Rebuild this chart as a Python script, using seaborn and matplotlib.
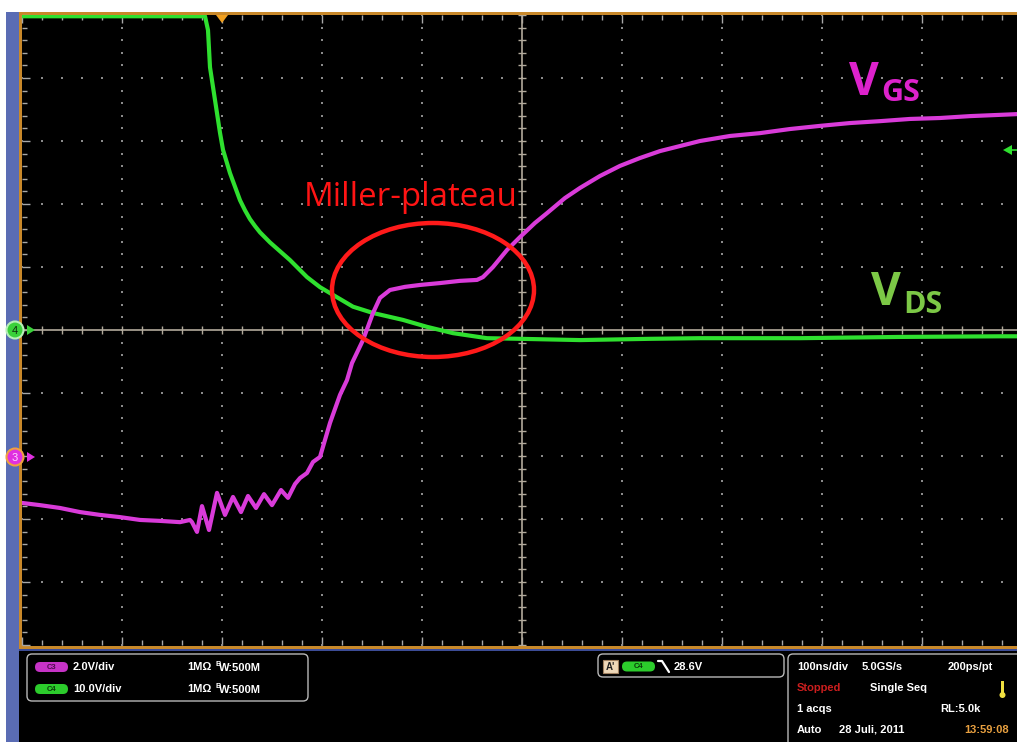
import numpy as np
import pandas as pd
import matplotlib
matplotlib.use("Agg")
import matplotlib.pyplot as plt
import seaborn as sns
from matplotlib.patches import Ellipse, Rectangle, FancyBboxPatch, Circle, Polygon
from matplotlib.ticker import MultipleLocator

# ---------------- data ----------------
# Channel 3 : gate-source voltage V_GS, time in ns, value in volts
vgs_t_ns = [0, 18, 38, 58, 78, 98, 118, 138, 158, 168, 170, 175, 180, 187, 195,
            203, 211, 219, 226, 234, 242, 250, 259, 266, 273, 278, 285, 291, 298,
            303, 308, 318, 325, 330, 341, 351, 358, 368, 383, 398, 418, 438, 455,
            461, 471, 485, 498, 513, 525, 543, 558, 578, 598, 618, 638, 658, 678,
            708, 738, 768, 798, 828, 858, 888, 918, 948, 978, 1000]
vgs_volts = [-1.49, -1.56, -1.65, -1.78, -1.87, -1.94, -2.03, -2.06, -2.10, -2.03,
             -2.10, -2.41, -1.59, -2.35, -1.17, -1.87, -1.30, -1.78, -1.27, -1.65,
             -1.21, -1.56, -1.08, -1.33, -0.89, -0.70, -0.54, -0.19, -0.03, 0.51,
             1.05, 1.94, 2.41, 2.95, 3.68, 4.54, 5.02, 5.27, 5.37, 5.43, 5.49, 5.56,
             5.59, 5.68, 6.00, 6.54, 6.95, 7.40, 7.71, 8.19, 8.51, 8.89, 9.21, 9.46,
             9.68, 9.84, 10.00, 10.16, 10.25, 10.38, 10.48, 10.57, 10.63, 10.70,
             10.73, 10.79, 10.83, 10.86]

# Channel 4 : drain-source voltage V_DS, time in ns, value in volts
vds_t_ns = [0, 183, 186, 188, 193, 198, 201, 208, 218, 223, 228, 233, 238, 243,
            248, 258, 268, 285, 298, 315, 331, 351, 381, 405, 431, 465, 498, 558,
            628, 678, 778, 878, 978, 1000]
vds_volts = [49.8, 49.8, 47.6, 41.7, 36.5, 31.3, 28.6, 24.9, 20.6, 19.0, 17.6, 16.5,
             15.5, 14.7, 13.9, 12.5, 11.1, 8.4, 6.8, 5.2, 3.7, 2.7, 1.6, 0.5, -0.5,
             -1.3, -1.4, -1.6, -1.4, -1.3, -1.3, -1.1, -1.0, -1.0]

# channel settings
ch3_volts_per_div, ch3_offset_div = 2.0, -2.0
ch4_volts_per_div, ch4_offset_div = 10.0, 0.0
time_per_div_ns = 100

label_plateau = "Miller-plateau"
label_vgs = ("V", "GS")
label_vds = ("V", "DS")

ch3_row = ("C3", "2.0V/div", "1MΩ", "B", "W:500M")
ch4_row = ("C4", "10.0V/div", "1MΩ", "B", "W:500M")
trigger_info = ("A'", "C4", "28.6V")
acq_rows = [("100ns/div", "5.0GS/s", "200ps/pt"),
            ("Stopped", "Single Seq", ""),
            ("1 acqs", "", "RL:5.0k"),
            ("Auto", "28 Juli, 2011", "13:59:08")]

# ---------------- style ----------------
sns.set_theme(style="dark")
plt.rcParams["font.family"] = ["Liberation Sans", "DejaVu Sans"]

W, H = 1017, 742
fig = plt.figure(figsize=(W / 100, H / 100), dpi=100, facecolor="black")

# background / frame axes in pixel coordinates
axb = fig.add_axes([0, 0, 1, 1], zorder=0)
axb.set_xlim(0, W); axb.set_ylim(H, 0); axb.axis("off")
axb.add_patch(Rectangle((0, 0), W, H, fc="black", ec="none"))
axb.add_patch(Rectangle((0, 0), W, 12, fc="white", ec="none"))
axb.add_patch(Rectangle((0, 0), 6, H, fc="white", ec="none"))
axb.add_patch(Rectangle((6, 12), 13, H, fc="#5a6cb4", ec="none"))
axb.add_patch(Rectangle((19, 12), W, 3.5, fc="#c8882a", ec="none"))
axb.add_patch(Rectangle((19, 12), 3.5, 637, fc="#c8882a", ec="none"))
axb.add_patch(Rectangle((19, 645.5), W, 3, fc="#c8882a", ec="none"))
axb.add_patch(Rectangle((19, 648.5), W, 2, fc="#3c4c96", ec="none"))

# main scope axes
left, top_px, bottom_px = 22, 15, 645
ax = fig.add_axes([left / W, (H - bottom_px) / H, 1000 / W, (bottom_px - top_px) / H],
                  zorder=1)
ax.set_facecolor("black")
ax.set_xlim(0, 10 * time_per_div_ns)
ax.set_ylim(-5, 5)
for s in ["top", "left", "bottom", "right"]:
    ax.spines[s].set_visible(False)
ax.xaxis.set_major_locator(MultipleLocator(time_per_div_ns))
ax.xaxis.set_minor_locator(MultipleLocator(time_per_div_ns / 5))
ax.yaxis.set_major_locator(MultipleLocator(1))
ax.yaxis.set_minor_locator(MultipleLocator(0.2))
ax.tick_params(which="both", direction="in", top=True, bottom=True, left=True,
               right=False, labelbottom=False, labelleft=False, color="#a8a8a8",
               width=1)
ax.tick_params(which="major", length=6)
ax.tick_params(which="minor", length=3.5)
ax.grid(False)

# graticule dots
grid_col = "#8a8a8a"
xd = np.arange(0, 1001, 20)
for yv in [-4, -3, -2, -1, 1, 2, 3, 4]:
    ax.scatter(xd, np.full_like(xd, yv, dtype=float), s=1.6, marker="s",
               color=grid_col, linewidths=0, zorder=1)
yd = np.arange(-5, 5.001, 0.2)
for xv in [100, 200, 300, 400, 600, 700, 800, 900]:
    ax.scatter(np.full_like(yd, xv), yd, s=1.6, marker="s", color=grid_col,
               linewidths=0, zorder=1)
# center cross with ticks
cross_col = "#b2aa9c"
ax.axhline(0, color=cross_col, lw=1.2, zorder=1)
ax.axvline(500, color=cross_col, lw=1.2, zorder=1)
ax.plot(xd, np.zeros_like(xd, dtype=float), ls="none", marker="|", ms=6, mew=1,
        color=cross_col, zorder=1)
ax.plot(np.full_like(yd, 500), yd, ls="none", marker="_", ms=6, mew=1,
        color=cross_col, zorder=1)

# traces
vds = pd.DataFrame({"t": vds_t_ns, "v": vds_volts})
vds["div"] = vds["v"] / ch4_volts_per_div + ch4_offset_div
vgs = pd.DataFrame({"t": vgs_t_ns, "v": vgs_volts})
vgs["div"] = vgs["v"] / ch3_volts_per_div + ch3_offset_div

sns.lineplot(data=vds, x="t", y="div", ax=ax, color="#2fe02f", lw=3.0,
             estimator=None, sort=False, zorder=3)
sns.lineplot(data=vgs, x="t", y="div", ax=ax, color="#d93bd9", lw=3.0,
             estimator=None, sort=False, zorder=4)
ax.set_xlabel(""); ax.set_ylabel("")

# Miller plateau ellipse
ax.add_patch(Ellipse((411, (330 - 290) / 63), width=202, height=134 / 63,
                     fill=False, ec="#ff1a1a", lw=3.2, zorder=5))

# overlay axes in pixel coordinates
axo = fig.add_axes([0, 0, 1, 1], zorder=3)
axo.set_xlim(0, W); axo.set_ylim(H, 0); axo.axis("off")
axo.patch.set_alpha(0)

lab_font = ["Open Sans", "DejaVu Sans"]
axo.text(304, 206, label_plateau, fontsize=23.8, color="#ff1414", family=lab_font,
         va="baseline", ha="left")
axo.text(849, 95, label_vgs[0], fontsize=33, color="#dd22cc", family=lab_font,
         weight="bold", va="baseline", ha="left")
axo.text(881, 101, label_vgs[1], fontsize=22, color="#dd22cc", family=lab_font,
         weight="bold", va="baseline", ha="left")
axo.text(871, 305, label_vds[0], fontsize=33, color="#7cc846", family=lab_font,
         weight="bold", va="baseline", ha="left")
axo.text(903, 313, label_vds[1], fontsize=22, color="#7cc846", family=lab_font,
         weight="bold", va="baseline", ha="left")

# channel ground markers
axo.add_patch(Circle((15, 330), 8.5, fc="#3ad13a", ec="#b8f0b8", lw=1.5))
axo.text(15, 331, "4", fontsize=8, color="#0e2a0e", ha="center", va="center")
axo.add_patch(Polygon([(27, 325), (27, 335), (35, 330)], fc="#3ad13a", ec="none"))
axo.add_patch(Circle((15, 457), 8.5, fc="#e030e0", ec="#f0a040", lw=1.5))
axo.text(15, 458, "3", fontsize=8, color="#ffd8ff", ha="center", va="center")
axo.add_patch(Polygon([(27, 452), (27, 462), (35, 457)], fc="#e030e0", ec="none"))
# trigger position & level markers
axo.add_patch(Polygon([(216, 15), (228, 15), (222, 23)], fc="#f0a020", ec="none"))
axo.add_patch(Polygon([(1012, 145), (1012, 155), (1003, 150)], fc="#2fe02f", ec="none"))
axo.plot([1011, 1017], [150, 150], color="#2fe02f", lw=1.2)

# ---------------- bottom status panel ----------------
bold = dict(fontsize=8, color="white", weight="bold", va="center", ha="left",
            family=["Liberation Sans", "DejaVu Sans"])
box_ec = "#b8b8b8"

def rbox(x0, y0, w, h, r=5, ec=box_ec):
    axo.add_patch(FancyBboxPatch((x0, y0), w, h,
                                 boxstyle=f"round,pad=0,rounding_size={r}",
                                 fc="black", ec=ec, lw=1))

def pill(x0, yc, fc, label, tc):
    axo.add_patch(FancyBboxPatch((x0, yc - 5), 33, 10,
                                 boxstyle="round,pad=0,rounding_size=5",
                                 fc=fc, ec="none"))
    axo.text(x0 + 16.5, yc + 0.5, label, fontsize=5.5, color=tc, ha="center",
             va="center", weight="bold")

rbox(27, 654, 281, 47)
for yc, row, fc, tc in [(667, ch3_row, "#c633c6", "#4a0a4a"),
                        (689, ch4_row, "#2ccc2c", "#0a3a0a")]:
    pill(35, yc, fc, row[0], tc)
    axo.text(73, yc, row[1], **bold)
    axo.text(187, yc, row[2], **bold)
    axo.text(215, yc - 3, row[3], **{**bold, "fontsize": 5.5})
    axo.text(219, yc + 1, row[4], **bold)

rbox(598, 654, 186, 23)
axo.add_patch(Rectangle((603, 660), 15, 13, fc="#efd8b8", ec="#a08060", lw=0.8))
axo.text(610.5, 666.5, trigger_info[0], fontsize=7, color="#202020", weight="bold",
         ha="center", va="center")
pill(622, 666.5, "#2ccc2c", trigger_info[1], "#0a3a0a")
axo.plot([658, 662, 669], [661, 661, 672], color="white", lw=1.6)
axo.text(674, 666.5, trigger_info[2], **bold)

rbox(788, 654, 260, 120)
row_y = [667, 688, 709, 730]
for yc, (a, b, c) in zip(row_y, acq_rows):
    if a == "Stopped":
        axo.text(797, yc, a, **{**bold, "color": "#cc1e1e"})
    else:
        axo.text(797, yc, a, **bold)
    if b:
        bx = 862 if yc == 667 else (870 if yc == 688 else 839)
        axo.text(bx, yc, b, **bold)
    if c:
        if c == "13:59:08":
            axo.text(964, yc, c, **{**bold, "color": "#e8a040"})
        elif c == "RL:5.0k":
            axo.text(940, yc, c, **bold)
        else:
            axo.text(948, yc, c, **bold)
# thermometer icon
axo.add_patch(Rectangle((1001, 681), 3, 12, fc="#f0e040", ec="none"))
axo.add_patch(Circle((1002.5, 695), 3, fc="#f0e040", ec="none"))

fig.savefig("out.png", dpi=100, facecolor="black")
